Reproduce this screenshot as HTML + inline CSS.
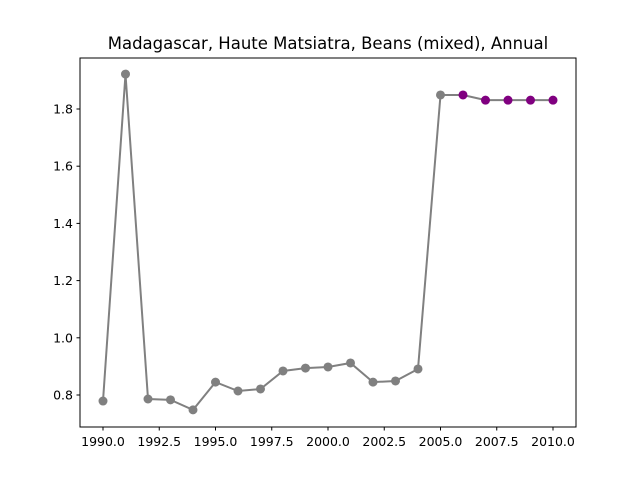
<!DOCTYPE html>
<html><head><meta charset="utf-8"><style>
body{margin:0;background:#fff;}
svg{display:block;font-family:"DejaVu Sans","Liberation Sans",sans-serif;}
</style></head><body>
<svg id="chart" width="640" height="480">
<rect width="640" height="480" fill="#fff"/>
<text x="328" y="49" text-anchor="middle" font-size="16.5">Madagascar, Haute Matsiatra, Beans (mixed), Annual</text>
<g id="plot"></g>
<rect x="80" y="58" width="496" height="369" fill="none" stroke="#000" stroke-width="1"/>
</svg>
<script>
const years=[1990,1991,1992,1993,1994,1995,1996,1997,1998,1999,2000,2001,2002,2003,2004,2005,2006,2007,2008,2009,2010];
const values=[0.779,1.922,0.786,0.783,0.748,0.845,0.814,0.821,0.884,0.894,0.898,0.912,0.845,0.849,0.891,1.849,1.849,1.831,1.831,1.831,1.831];
const forecastStart=2006;
const xTicks=[1990,1992.5,1995,1997.5,2000,2002.5,2005,2007.5,2010];
const xTickLabels=["1990.0","1992.5","1995.0","1997.5","2000.0","2002.5","2005.0","2007.5","2010.0"];
const yTicks=[0.8,1.0,1.2,1.4,1.6,1.8];
const yTickLabels=["0.8","1.0","1.2","1.4","1.6","1.8"];
const NS="http://www.w3.org/2000/svg";
const x=v=>103+(v-1990)*22.5;
const y=v=>395-(v-0.8)*286;
const g=document.getElementById('plot');
function mk(t,a){const e=document.createElementNS(NS,t);for(const k in a)e.setAttribute(k,a[k]);g.appendChild(e);return e;}
xTicks.forEach((t,i)=>{
 const l=mk('line',{x1:x(t),x2:x(t),y1:427,y2:430.5,stroke:'#000'});
 
 
 const tx=mk('text',{x:x(t),y:446,'text-anchor':'middle','font-size':'12.5'});
 tx.textContent=xTickLabels[i];
 
 
});
yTicks.forEach((t,i)=>{
 const l=mk('line',{x1:76.5,x2:80,y1:y(t),y2:y(t),stroke:'#000'});
 
 
 const tx=mk('text',{x:73,y:y(t)+4.5,'text-anchor':'end','font-size':'12.5'});
 tx.textContent=yTickLabels[i];
 
 
});
const pl=mk('polyline',{points:years.map((yr,i)=>x(yr)+','+y(values[i])).join(' '),fill:'none',stroke:'#808080','stroke-width':2});


years.forEach((yr,i)=>{
 const c=mk('circle',{cx:x(yr),cy:y(values[i]),r:4.5,fill:yr>=forecastStart?'#800080':'#808080'});
 
 
});
</script>
</body></html>
